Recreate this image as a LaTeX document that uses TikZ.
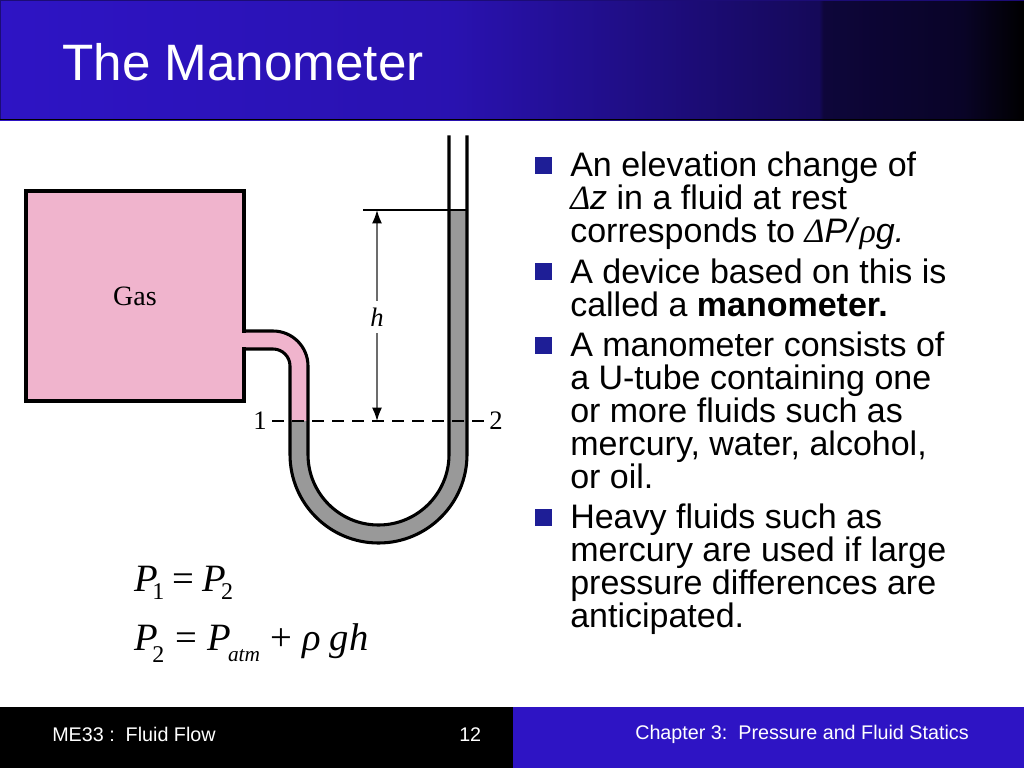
\documentclass[tikz,border=0pt]{standalone}
\usepackage{fontspec}
\setmainfont{Liberation Sans}
\newfontfamily\timesfont{Liberation Serif}
\usetikzlibrary{arrows.meta}
\definecolor{slideblue}{RGB}{46,20,196}
\definecolor{bulletblue}{RGB}{30,30,150}
\definecolor{gaspink}{RGB}{240,180,205}
\definecolor{liquidgray}{RGB}{153,153,153}
\pgfdeclarehorizontalshading{titlefade}{100bp}{color(0bp)=(slideblue); color(25bp)=(slideblue); color(47bp)=(slideblue!90!black); color(65bp)=(slideblue!45!black); color(65.2bp)=(slideblue!30!black); color(72bp)=(slideblue!20!black); color(75bp)=(black); color(100bp)=(black)}
\tikzset{
  wall/.style={draw=black, line width=2.3pt, line cap=rect},
  bodytext/.style={anchor=north west, inner sep=0pt, align=left, font=\fontsize{25.5}{24.75}\selectfont},
  labeltext/.style={inner sep=0pt, font=\timesfont\fontsize{20}{20}\selectfont},
  eqtext/.style={anchor=base west, inner sep=0pt, font=\timesfont\fontsize{29}{29}\selectfont},
  foottext/.style={anchor=base west, inner sep=0pt, text=white, font=\fontsize{14.8}{14.8}\selectfont}
}
\newcommand{\eqsub}[3][18]{\raisebox{-#2em}{\fontsize{#1}{#1}\selectfont #3}}
\newcommand{\symit}[1]{{\timesfont\itshape #1}}
\begin{document}
\begin{tikzpicture}[x=0.75pt,y=-0.75pt]
\def\tubel{290}
\def\tuber{467}
\def\boty{454.5}
\useasboundingbox (0,0) rectangle (1024,768);
\fill[white] (0,0) rectangle (1024,768);
% title and footer bars
\shade[shading=titlefade] (0,0) rectangle (1024,120);
\draw[slideblue!60!black, line width=0.75pt] (0.5,119.5) -- (0.5,0.5) -- (1023.5,0.5);
\draw[black, line width=0.75pt] (0,119.5) -- (1024,119.5);
\node[anchor=base west, inner sep=0pt, text=white, font=\fontsize{38.4}{38.4}\selectfont] (title) at (62,80) {The Manometer};
\fill[black] (0,707) rectangle (513,768);
\fill[slideblue] (513,707) rectangle (1024,768);
\node[foottext] (course) at (52,741) {ME33 :\ \ Fluid Flow};
\node[foottext] (pagenum) at (459,741) {12};
\node[foottext] (chapter) at (635,739) {Chapter 3:\ \ Pressure and Fluid Statics};
% gas and liquid
\fill[gaspink] (26,191) rectangle (244,401);
\fill[gaspink] (244,331) -- (273,331) arc (-90:0:35) -- (308,421) -- (\tubel,421) -- (\tubel,366) arc (0:-90:17) -- (244,349) -- cycle;
\fill[liquidgray] (\tubel,421) -- (308,421) -- (308,\boty) arc (180:0:70.5) -- (449,210) -- (\tuber,210) -- (\tuber,\boty) arc (0:180:88.5) -- cycle;
% walls
\draw[wall] (244,331) -- (244,191) -- (26,191) -- (26,401) -- (244,401) -- (244,349);
\draw[wall] (244,331) -- (273,331) arc (-90:0:35) -- (308,\boty) arc (180:0:70.5) -- (449,137);
\draw[wall] (244,349) -- (273,349) arc (-90:0:17) -- (\tubel,\boty) arc (180:0:88.5) -- (\tuber,137);
% levels
\coordinate (htop) at (377,210);
\coordinate (hbot) at (377,421);
\draw[black, line width=1.2pt] (363,210) -- (\tuber,210);
\draw[gray!85!black, line width=1.2pt, {Latex[black,length=10pt,width=7.5pt]}-{Latex[black,length=10pt,width=7.5pt]}] (htop) -- (hbot);
\draw[black, line width=1.4pt, dash pattern=on 9pt off 6pt] (272,421) -- (487,421);
\node[labeltext, fill=white, inner xsep=1pt, inner ysep=5pt] (hlabel) at (377,317) {\itshape h};
\node[labeltext] (gaslabel) at (135,296) {\fontsize{21}{21}\selectfont Gas};
\node[labeltext] (one) at (260,421) {1};
\node[labeltext] (two) at (496,421) {2};
% equations
\node[eqtext] (eqa) at (134,591) {\itshape P\hspace{-0.14em}\eqsub{0.23}{\upshape 1}\upshape\hspace{0.2em}=\hspace{0.23em}\itshape P\hspace{-0.14em}\eqsub{0.23}{\upshape 2}};
\node[eqtext] (eqb) at (134,650) {\itshape P\hspace{-0.14em}\eqsub{0.33}{\upshape 2}\upshape\hspace{0.28em}=\hspace{0.26em}\itshape P\hspace{-0.07em}\eqsub[16]{0.3}{atm}\upshape\hspace{0.26em}+\hspace{0.28em}\itshape ρ\hspace{0.2em}g\hspace{0.03em}h};
% bullets
\foreach \ytop/\bname in {157/a,263/b,337/c,509/d}
  \fill[bulletblue] (535,\ytop) rectangle +(17,17);
\node[bodytext] (parta) at (570,151.2) {An elevation change of\\\symit{Δ}\textit{z} in a fluid at rest\\corresponds to \symit{Δ}\textit{P/}\symit{ρ}\textit{g.}};
\node[bodytext] (partb) at (570,258.2) {A device based on this is\\called a \textbf{manometer.}};
\node[bodytext] (partc) at (570,331.2) {A manometer consists of\\a U-tube containing one\\or more fluids such as\\mercury, water, alcohol,\\or oil.};
\node[bodytext] (partd) at (570,503.2) {Heavy fluids such as\\mercury are used if large\\pressure differences are\\anticipated.};
\end{tikzpicture}
\end{document}
